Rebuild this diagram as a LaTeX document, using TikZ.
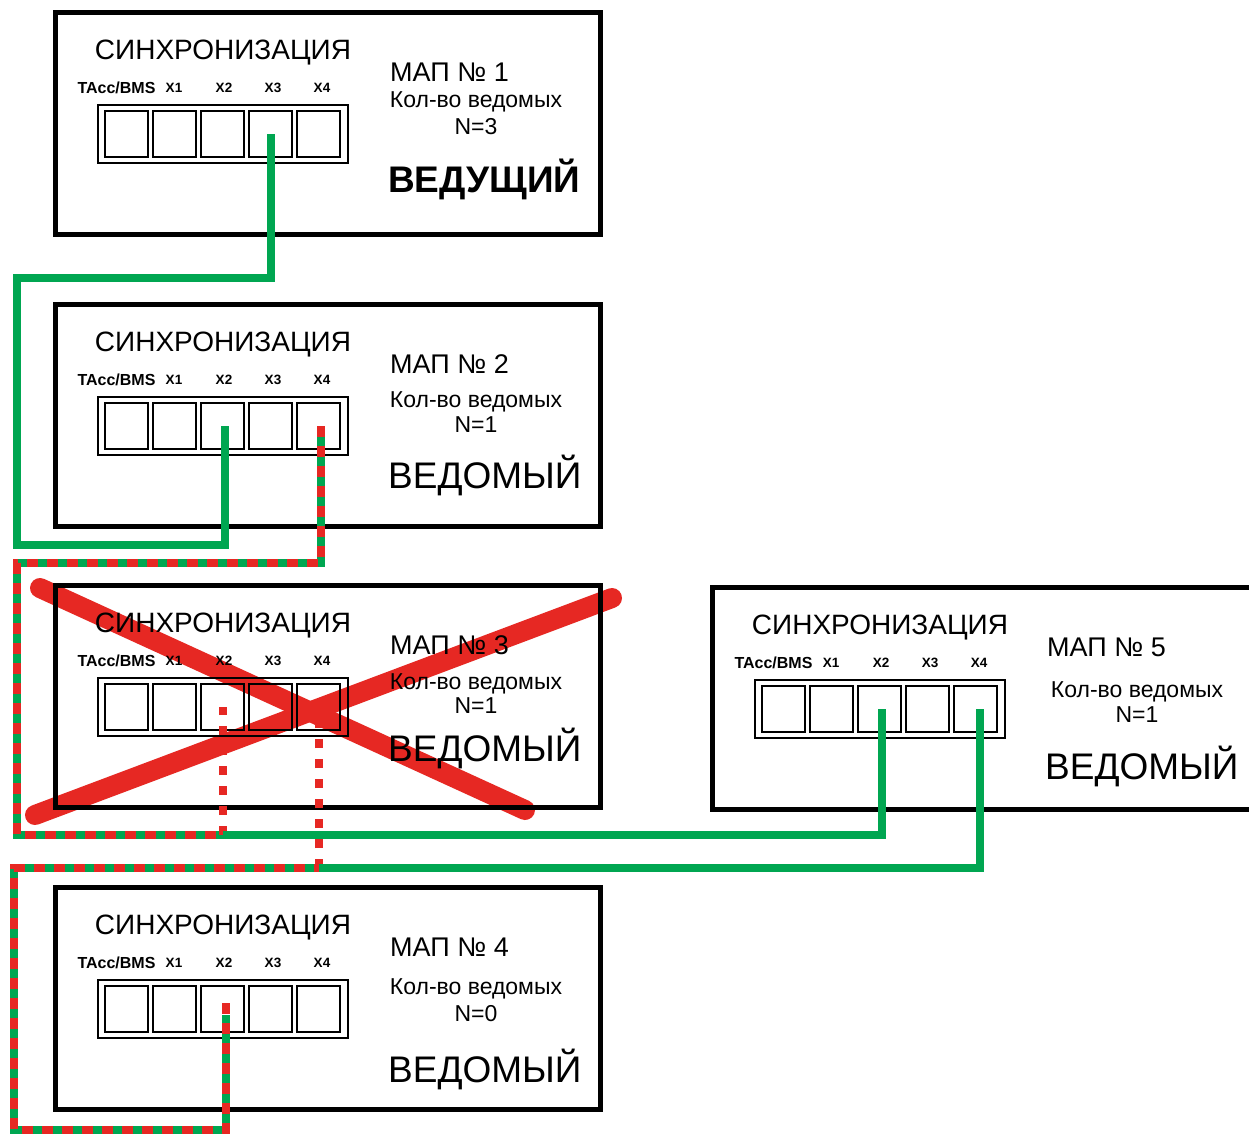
\documentclass[tikz,border=0pt]{standalone}
\usepackage{fontspec}
\setmainfont{Liberation Sans}
\usetikzlibrary{calc}
\definecolor{cgreen}{RGB}{0,166,81}
\definecolor{cred}{RGB}{230,40,35}
\newcommand\fsync{\fontsize{28}{30}\selectfont}
\newcommand\fmap{\fontsize{27}{29}\selectfont}
\newcommand\fkol{\fontsize{23}{25}\selectfont}
\newcommand\fstat{\fontsize{37}{39}\selectfont}
\newcommand\fstatb{\fontsize{37}{39}\selectfont\bfseries}
\newcommand\flabt{\fontsize{16}{17}\selectfont\bfseries}
\newcommand\flabx{\fontsize{13.5}{14}\selectfont\bfseries}
\def\bw{545}
\def\kolx{421}
% #1 name, #2 left, #3 top, #4 number, #5 N, #6 status, #7 kol y, #8 N y, #9 status y
\newcommand\mapbox[9]{%
\begin{scope}[shift={(#2,#3)}]
\node[frame, minimum width=\bw pt, minimum height=222pt] (#1) at (\bw/2,111) {};
\node[strip] (#1s) at (168,122) {};
\foreach \i/\xx in {0/71.5,1/119.5,2/167.5,3/215.5,4/263.5}
  \node[sq] (#1x\i) at (\xx,122) {};
\node[tx, font=\flabt] (#1lt) at (61.5,76) {TAcc/BMS};
\node[tx, font=\flabx] (#1l1) at (119,76) {X1};
\node[tx, font=\flabx] (#1l2) at (169,76) {X2};
\node[tx, font=\flabx] (#1l3) at (218,76) {X3};
\node[tx, font=\flabx] (#1l4) at (267,76) {X4};
\node[tx, font=\fsync] (#1t) at (168,38) {СИНХРОНИЗАЦИЯ};
\node[tx, font=\fmap, anchor=west] (#1m) at (335,60) {МАП № #4};
\node[tx, font=\fkol] (#1k) at (\kolx,#7) {Кол-во ведомых};
\node[tx, font=\fkol] (#1n) at (\kolx,#8) {N=#5};
\node[tx, anchor=west] (#1st) at (333,#9) {#6};
\end{scope}}
\begin{document}
\begin{tikzpicture}[x=1pt,y=-1pt,
  frame/.style={draw, line width=5pt, inner sep=0pt, outer sep=0pt},
  strip/.style={draw, line width=1.2pt, minimum width=250pt, minimum height=58pt, inner sep=0pt},
  sq/.style={draw, line width=1.3pt, minimum width=43pt, minimum height=46pt, inner sep=0pt},
  tx/.style={inner sep=0pt, text depth=0pt},
  gline/.style={draw=cgreen, line width=8pt},
  rgline/.style={draw=cgreen, line width=8pt},
  rdash/.style={draw=cred, line width=8pt, dash pattern=on 11pt off 9pt},
  rdot/.style={draw=cred, line width=8pt, dash pattern=on 9pt off 11pt},
  redx/.style={draw=cred, line width=20pt, line cap=round}]
\useasboundingbox[fill=white] (0,0) rectangle (1249,1135);
% crossed-out unit
\draw[redx] (40,588) -- (525,810);
\draw[redx] (35,815) -- (612,598);
% units
\mapbox{b1}{55}{12}{1}{3}{\fstatb ВЕДУЩИЙ}{88}{114}{164}
\mapbox{b2}{55}{304}{2}{1}{\fstat ВЕДОМЫЙ}{96}{121}{168}
\mapbox{b3}{55}{585}{3}{1}{\fstat ВЕДОМЫЙ}{97}{121}{160}
\mapbox{b4}{55}{887}{4}{0}{\fstat ВЕДОМЫЙ}{100}{126}{179}
\def\bw{550}
\def\kolx{425}
\mapbox{b5}{712}{587}{5}{1}{\fstat ВЕДОМЫЙ}{103}{128}{176}
% connectors
\coordinate (a1) at (17,278);
\coordinate (a2) at (17,545);
\draw[gline] (b1x3.center) |- (a1) -- (a2) -| ([xshift=2pt]b2x2.center);
\coordinate (r1) at (17,563);
\coordinate (r2) at (17,835);
\coordinate (y1) at (0,835);
\coordinate (y2) at (0,868);
\coordinate (j1) at (b3x2.center |- y1);
\coordinate (j2) at (b3x4.center |- y2);
\draw[rgline] ([xshift=2pt]b2x4.center) |- (r1) -- (r2) -- (j1);
\draw[rdash] ([xshift=2pt]b2x4.center) |- (r1) -- (r2) -- (j1);
\draw[rdot] (j1) -- (b3x2.center);
\draw[gline] (j1) -| ([xshift=2pt]b5x2.center);
\coordinate (c1) at (14,1130);
\coordinate (c2) at (14,868);
\draw[rgline] ([xshift=3pt,yshift=-6pt]b4x2.center) |- (c1) -- (c2) -- (j2);
\draw[rdash] ([xshift=3pt,yshift=6pt]b4x2.center) |- (c1) -- (c2) -- (j2);
\draw[rdot] (j2) -- (b3x4.center);
\draw[gline] (j2) -| ([xshift=4pt]b5x4.center);
\end{tikzpicture}
\end{document}
